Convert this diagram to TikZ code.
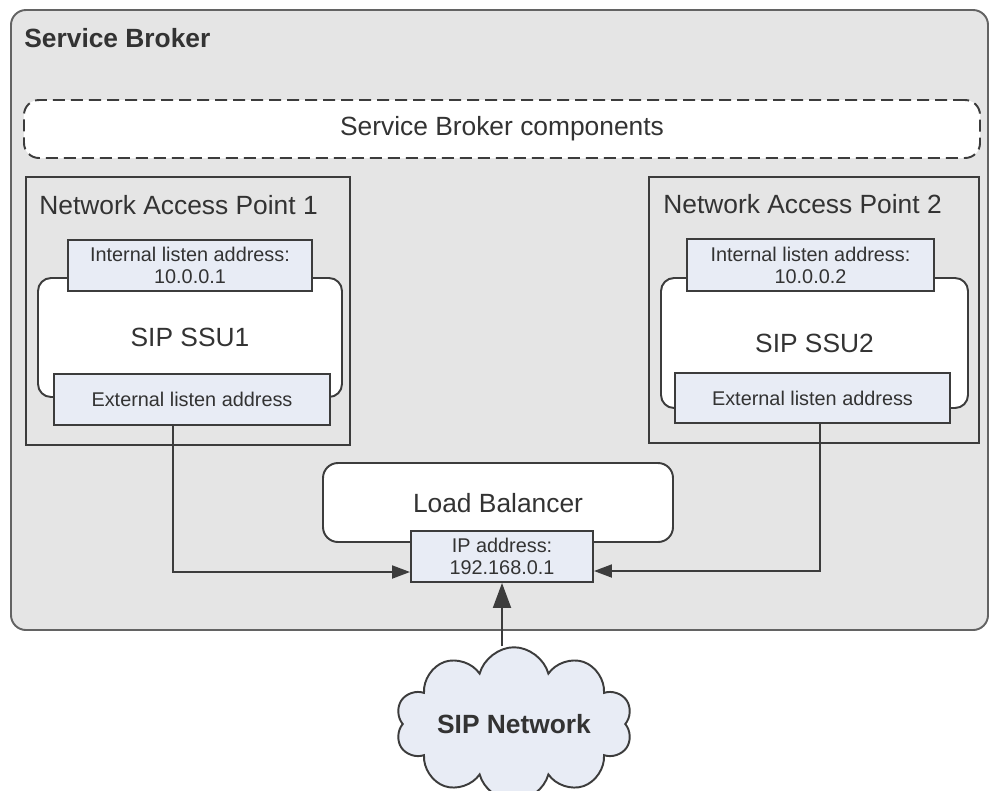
\documentclass[tikz,border=0pt]{standalone}
\usepackage{fontspec}
\setmainfont{Liberation Sans}
\usetikzlibrary{arrows.meta,shapes.symbols}
\definecolor{brokerfill}{HTML}{E5E5E5}
\definecolor{addrfill}{HTML}{E8ECF5}
\definecolor{edgegray}{HTML}{3C3C3C}
\definecolor{textgray}{HTML}{333333}
\begin{document}
\begin{tikzpicture}[x=0.2mm,y=-0.2mm,
      every node/.style={text=textgray},
      bigtext/.style={font=\fontsize{15}{18}\selectfont},
      smalltext/.style={font=\fontsize{11.3}{12.6}\selectfont},
      plainbox/.style={draw=edgegray,line width=1.1pt},
      addrbox/.style={plainbox,fill=addrfill,smalltext,align=center,inner sep=0pt},
      unitbox/.style={plainbox,fill=white,rounded corners=2.6mm,bigtext},
      link/.style={draw=edgegray,line width=1.1pt,
        -{Triangle[length=3.6mm,width=2.6mm]}}]
      \useasboundingbox (0,0) rectangle (989,790);
      % broker frame
      \node[plainbox,draw=edgegray!80,fill=brokerfill,rounded corners=3mm,
        minimum width=19.54cm,minimum height=12.4cm] (broker) at (499.5,320) {};
      \node[font=\fontsize{15}{18}\selectfont\bfseries,anchor=west,inner sep=0pt]
        (brokertitle) at (24,38.5) {Service Broker};
      \node[plainbox,dash pattern=on 2.4mm off 1.2mm,fill=white,rounded corners=3mm,
        bigtext,minimum width=19.12cm,minimum height=1.16cm] (comps) at (502,129)
        {Service Broker components};
      % access points
      \node[plainbox,minimum width=6.48cm,minimum height=5.36cm] (nap1) at (188,311) {};
      \node[plainbox,minimum width=6.6cm,minimum height=5.32cm] (nap2) at (814,310) {};
      \node[bigtext,anchor=west,inner sep=0pt] (nap1title) at (39,205)
        {Network Access Point 1};
      \node[bigtext,anchor=west,inner sep=0pt] (nap2title) at (663,204)
        {Network Access Point 2};
      \node[unitbox,minimum width=6.08cm,minimum height=2.38cm] (ssu1) at (190,337.5)
        {SIP SSU1};
      \node[unitbox,minimum width=6.14cm,minimum height=2.6cm] (ssu2) at (814.5,343)
        {SIP SSU2};
      \node[addrbox,minimum width=4.88cm,minimum height=1.02cm] (int1) at (190,265.5)
        {Internal listen address:\\10.0.0.1};
      \node[addrbox,minimum width=4.94cm,minimum height=1.04cm] (int2) at (810.5,265)
        {Internal listen address:\\10.0.0.2};
      \node[addrbox,minimum width=5.52cm,minimum height=1.02cm] (ext1) at (192,399.5)
        {External listen address};
      \node[addrbox,minimum width=5.5cm,minimum height=1cm] (ext2) at (812.5,398)
        {External listen address};
      % balancer and network
      \node[unitbox,rounded corners=3mm,minimum width=7cm,minimum height=1.58cm,
        text depth=0pt] (lb) at (498,502.5) {Load Balancer};
      \node[addrbox,minimum width=3.64cm,minimum height=1.02cm] (ip) at (502,556.5)
        {IP address:\\192.168.0.1};
      \node[cloud,cloud puffs=10,aspect=2.1,plainbox,fill=addrfill,inner sep=1pt,
        minimum width=4.4cm,minimum height=2.2cm,
        font=\fontsize{15}{18}\selectfont\bfseries] (net) at (514,724) {SIP Network};
      \draw[link] ([xshift=-3.8mm]ext1.south) |- ([yshift=-3.1mm]ip.west);
      \draw[link] ([xshift=1.5mm]ext2.south) |- ([yshift=-2.9mm]ip.east);
      \draw[link,-{Triangle[length=5mm,width=3.6mm]}] (ip.south |- net.north) -- (ip.south);
\end{tikzpicture}
\end{document}
